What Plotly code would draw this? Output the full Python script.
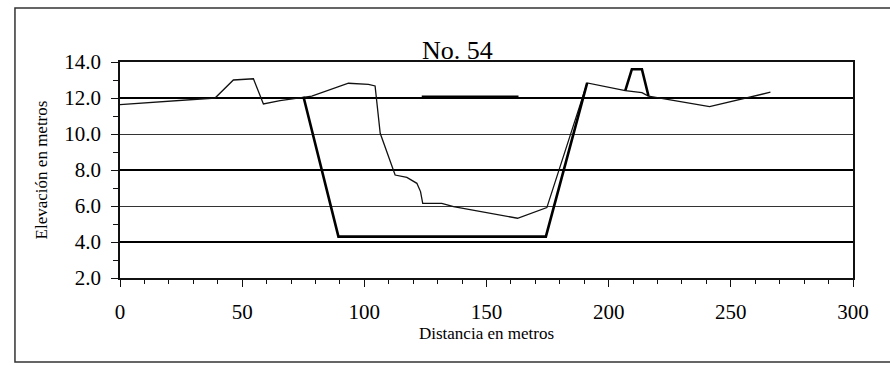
import plotly.graph_objects as go

# Perfil del terreno natural (línea delgada)
terreno_x = [0, 38.9, 46.4, 54.6, 58.7, 65.5, 78.5, 93.5, 101.7, 104.4, 106.5,
             112.6, 117.4, 121.5, 123.0, 123.9, 131.7, 136.5, 162.7, 174.7,
             191.2, 206.8, 213.6, 216.3, 241.3, 266.2]
terreno_y = [11.63, 12.0, 13.0, 13.07, 11.67, 11.85, 12.11, 12.82, 12.76, 12.67,
             10.04, 7.72, 7.59, 7.26, 6.8, 6.15, 6.15, 5.96, 5.32, 5.91,
             12.84, 12.41, 12.3, 12.11, 11.52, 12.32]

# Sección de diseño del canal (línea gruesa)
canal_x = [75.1, 89.4, 174.3, 191.2]
canal_y = [12.07, 4.3, 4.3, 12.84]

# Nivel de agua
nivel_x = [123.5, 163.1]
nivel_y = [12.07, 12.07]

# Bordo
bordo_x = [206.8, 209.5, 213.6, 216.3]
bordo_y = [12.41, 13.6, 13.6, 12.11]

titulo = "No. 54"
eje_x = "Distancia en metros"
eje_y = "Elevación en metros"

SERIF = "Liberation Serif"

fig = go.Figure()
fig.add_trace(go.Scatter(x=terreno_x, y=terreno_y, mode="lines",
                         line=dict(color="#111111", width=1.3), showlegend=False))
fig.add_trace(go.Scatter(x=canal_x, y=canal_y, mode="lines",
                         line=dict(color="#000000", width=2.6), showlegend=False))
# el nivel de agua va sobre el eje y2 (mismo rango) para que se dibujen
# las líneas de referencia marcadas cada 4 m
fig.add_trace(go.Scatter(x=nivel_x, y=nivel_y, mode="lines", yaxis="y2",
                         line=dict(color="#000000", width=2.6), showlegend=False))
fig.add_trace(go.Scatter(x=bordo_x, y=bordo_y, mode="lines",
                         line=dict(color="#000000", width=2.6), showlegend=False))

fig.update_layout(
    width=890, height=366,
    margin=dict(l=120, r=37, t=62, b=88),
    paper_bgcolor="white", plot_bgcolor="white",
    font=dict(family=SERIF, color="black"),
    xaxis=dict(
        range=[0, 300], dtick=50, tick0=0,
        showgrid=False, zeroline=False,
        showline=True, linecolor="#111", linewidth=1.5, mirror=True,
        ticks="outside", ticklen=7, tickcolor="#111", tickwidth=1,
        minor=dict(dtick=10, ticks="outside", ticklen=4, tickcolor="#111"),
        tickfont=dict(family=SERIF, size=21),
        ticklabelstandoff=7,
        title=dict(text=eje_x, font=dict(family=SERIF, size=17), standoff=4),
    ),
    yaxis=dict(
        range=[2, 14], dtick=2, tick0=2, tickformat=".1f",
        showgrid=True, gridcolor="#333", gridwidth=1,
        zeroline=False,
        showline=True, linecolor="#111", linewidth=1.5, mirror=True,
        ticks="outside", ticklen=7, tickcolor="#111", tickwidth=1,
        minor=dict(dtick=1, ticks="outside", ticklen=5, tickcolor="#111", showgrid=False),
        tickfont=dict(family=SERIF, size=21),
        ticklabelstandoff=6,
        title=dict(text=eje_y, font=dict(family=SERIF, size=17), standoff=12),
    ),
    yaxis2=dict(
        range=[2, 14], overlaying="y", anchor="x", side="left",
        tickvals=[4, 8, 12], showticklabels=False, ticks="",
        showgrid=True, gridcolor="#000", gridwidth=2,
        zeroline=False, showline=False,
    ),
    annotations=[dict(
        text=titulo, xref="paper", yref="paper", x=0.461, y=1.0,
        xanchor="center", yanchor="bottom", yshift=-5, showarrow=False,
        font=dict(family=SERIF, size=26, color="black"),
    )],
    shapes=[dict(
        type="rect", xref="paper", yref="paper",
        x0=-0.1433, x1=1.2, y0=-0.389, y1=1.25,
        line=dict(color="#333", width=1.5), fillcolor="rgba(0,0,0,0)", layer="below",
    )],
)

fig.write_html("out.html")
